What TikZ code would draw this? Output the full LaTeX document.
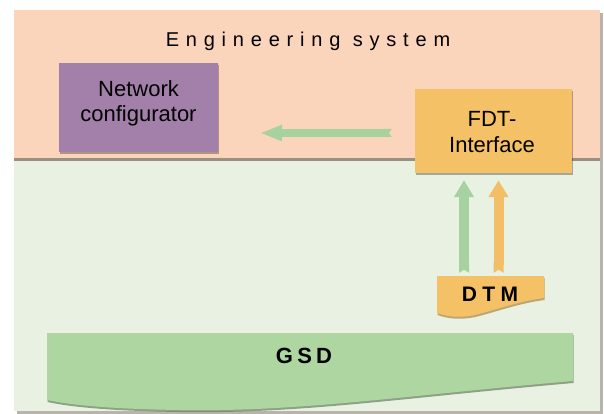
\documentclass[tikz,border=0pt]{standalone}
\usepackage{fontspec}
\setmainfont{Liberation Sans}
\usetikzlibrary{arrows.meta,shadows,calc}
\definecolor{pinkbg}{HTML}{FBD4BC}
\definecolor{greenbg}{HTML}{E9F1E3}
\definecolor{framegray}{HTML}{B9B3AC}
\definecolor{sepcol}{HTML}{9C8E80}
\definecolor{boxpurple}{HTML}{A380AA}
\definecolor{boxorange}{HTML}{F5C166}
\definecolor{gsdgreen}{HTML}{AED6A1}
\definecolor{arrgreen}{HTML}{A6D29F}
\definecolor{arrorange}{HTML}{F3BE68}
\tikzset{
  box/.style={rectangle, inner sep=0pt, draw=none,
    drop shadow={shadow xshift=1pt, shadow yshift=-2pt, opacity=0.3, fill=black}},
  boxtext/.style={align=center, inner sep=0pt, font=\fontsize{22}{25}\selectfont},
  flatarrow/.style={line width=8pt, {Triangle Cap[reversed,length=3pt]}-{Triangle[length=22pt,width=15pt]}},
  uparrow/.style={line width=10pt, {Triangle Cap[reversed,length=3pt]}-{Triangle[length=17pt,width=19pt]}},
  shapeshadow/.style={drop shadow={shadow xshift=0.5pt, shadow yshift=-2pt, opacity=0.7, fill=#1}},
}
\begin{document}
\begin{tikzpicture}[x=1pt,y=-1pt]
\useasboundingbox (0,0) rectangle (604,414);
\fill[white] (0,0) rectangle (604,414);
% frame
\fill[framegray] (17,13) rectangle (603,414);
\fill[greenbg] (14,10) rectangle (600,411);
\fill[pinkbg] (14,10) rectangle (600,158);
\draw[sepcol, line width=3pt] (14,159.5) -- (600,159.5);
% title
\node[anchor=base, inner sep=0pt, font=\fontsize{20}{24}\selectfont\addfontfeatures{LetterSpace=34}] (title) at (308,47) {Engineering system};
% network configurator
\node[box, fill=boxpurple, minimum width=159pt, minimum height=89pt] (net) at (138.5,107.5) {};
\node[boxtext] (nettext) at (138.5,103.8) {Network\\configurator};
% FDT interface
\node[box, fill=boxorange, minimum width=157pt, minimum height=84pt] (fdt) at (493.5,131) {};
\node[boxtext, font=\fontsize{22}{26.5}\selectfont] (fdttext) at (492,131.8) {FDT-\\Interface};
% DTM shape
\fill[boxorange, shapeshadow=boxorange!70!black] (437,276) -- (544,276) -- (544,298)
  .. controls (520,301) and (495,310) .. (475,315)
  .. controls (460,318) and (448,317) .. (437,313) -- cycle;
\node[inner sep=0pt, minimum width=107pt, minimum height=37pt,
  font=\fontsize{21}{25}\selectfont\bfseries\addfontfeatures{LetterSpace=26}] (dtm) at (490,294.5) {DTM};
% GSD shape
\fill[gsdgreen, shapeshadow=gsdgreen!60!black] (47,333) -- (573,333) -- (573,381)
  .. controls (400,396) and (300,412) .. (180,410)
  .. controls (110,409) and (70,405) .. (47,400) -- cycle;
\node[inner sep=0pt, font=\fontsize{22}{26}\selectfont\bfseries\addfontfeatures{LetterSpace=19}] (gsd) at (304,355.5) {GSD};
% arrows
\draw[flatarrow, arrgreen, shorten <=23pt, shorten >=42pt] ([yshift=-2pt]fdt.west) -- ([yshift=-2pt]fdt.west -| net.east);
\draw[uparrow, arrgreen, shorten <=3pt, shorten >=7pt] ([xshift=-26pt]dtm.north) -- ([xshift=-26pt]dtm.north |- fdt.south);
\draw[uparrow, arrorange, shorten <=3pt, shorten >=7pt] ([xshift=8.5pt]dtm.north) -- ([xshift=8.5pt]dtm.north |- fdt.south);
\end{tikzpicture}
\end{document}
